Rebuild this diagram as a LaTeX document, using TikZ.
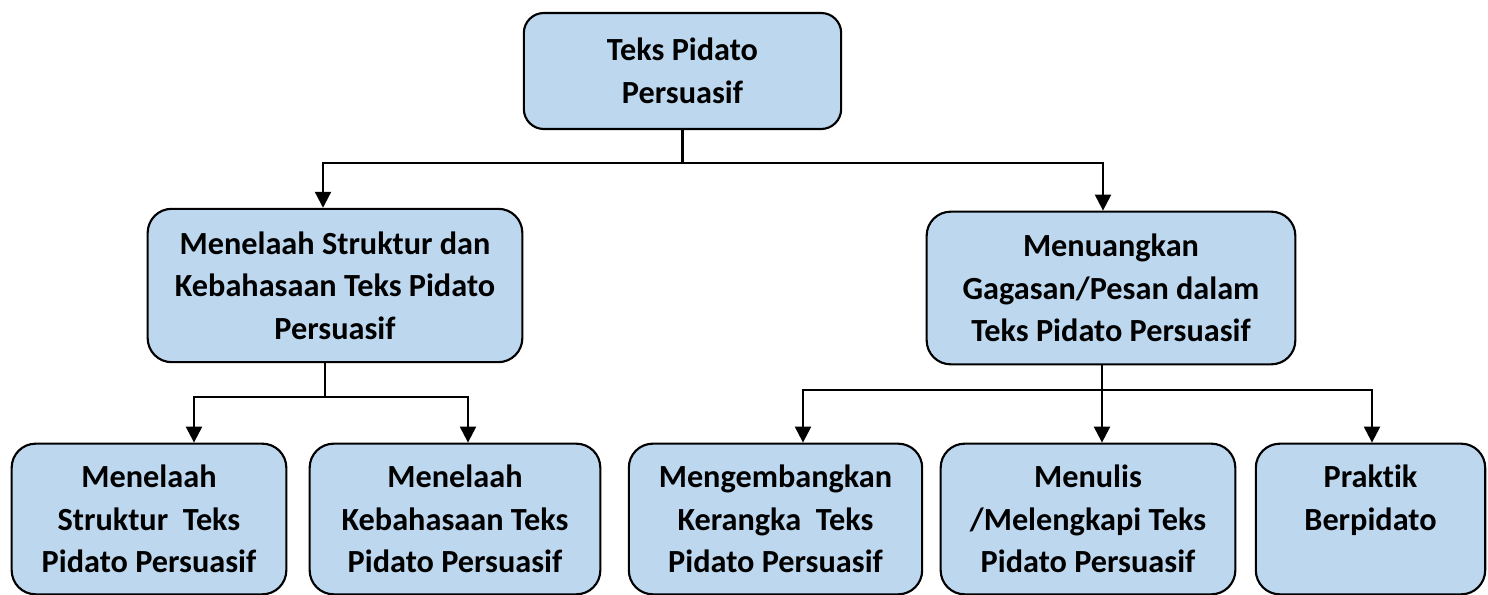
\documentclass[tikz,border=0pt]{standalone}
\usepackage{fontspec}
\setmainfont{Carlito}[Ligatures=NoCommon]
\usetikzlibrary{arrows.meta}
\definecolor{boxfill}{RGB}{189,215,238}
\begin{document}
\begin{tikzpicture}[x=0.75pt,y=-0.75pt,
  box/.style={draw=black, line width=1.6pt, fill=boxfill, rounded corners=18pt,
    align=center, inner sep=0pt,
    font=\fontsize{24.2}{32}\selectfont\bfseries},
  conn/.style={line width=1.7pt},
  arr/.style={line width=1.7pt, -{Triangle[width=12pt,length=12pt]}}]
\useasboundingbox (0,0) rectangle (1488,595);
% boxes
\node[box, minimum width=238pt, minimum height=87pt, rounded corners=15pt] (root) at (682.5,71) {Teks Pidato\\Persuasif};
\node[box, minimum width=281pt, minimum height=115pt] (L) at (335,285.5) {Menelaah Struktur dan\\Kebahasaan Teks Pidato\\Persuasif};
\node[box, minimum width=276.5pt, minimum height=114.5pt] (R) at (1111,288) {Menuangkan\\Gagasan/Pesan dalam\\Teks Pidato Persuasif};
\node[box, minimum width=206pt, minimum height=113pt] (B1) at (149,519) {Menelaah\\Struktur\ \ Teks\\Pidato Persuasif};
\node[box, minimum width=218pt, minimum height=113pt] (B2) at (455,519) {Menelaah\\Kebahasaan Teks\\Pidato Persuasif};
\node[box, minimum width=220pt, minimum height=113pt] (B3) at (775.5,519) {Mengembangkan\\Kerangka\ \ Teks\\Pidato Persuasif};
\node[box, minimum width=221pt, minimum height=113pt] (B4) at (1088,519) {Menulis\\/Melengkapi Teks\\Pidato Persuasif};
\node[box, minimum width=172pt, minimum height=113pt] (B5) at (1370.5,519) {Praktik\\Berpidato\\\mbox{}};
% junction coordinates
\coordinate (j1) at (682.5,163);
\coordinate (aL) at (323,163);
\coordinate (aR) at (1103,163);
\coordinate (s2) at (325,397);
\coordinate (a1) at (194,397);
\coordinate (a2) at (468,397);
\coordinate (s3) at (1102,390);
\coordinate (a3) at (803,390);
\coordinate (a5) at (1372,390);
% connectors
\draw[conn] (root.south) -- (j1);
\draw[arr] (j1) -- (aL) -- (L.north -| aL);
\draw[arr] (j1) -- (aR) -- (R.north -| aR);
\draw[conn] (L.south -| s2) -- (s2);
\draw[arr] (s2) -- (a1) -- (B1.north -| a1);
\draw[arr] (s2) -- (a2) -- (B2.north -| a2);
\draw[conn] (R.south -| s3) -- (s3);
\draw[arr] (s3) -- (a3) -- (B3.north -| a3);
\draw[arr] (s3) -- (B4.north -| s3);
\draw[arr] (s3) -- (a5) -- (B5.north -| a5);
\end{tikzpicture}
\end{document}
